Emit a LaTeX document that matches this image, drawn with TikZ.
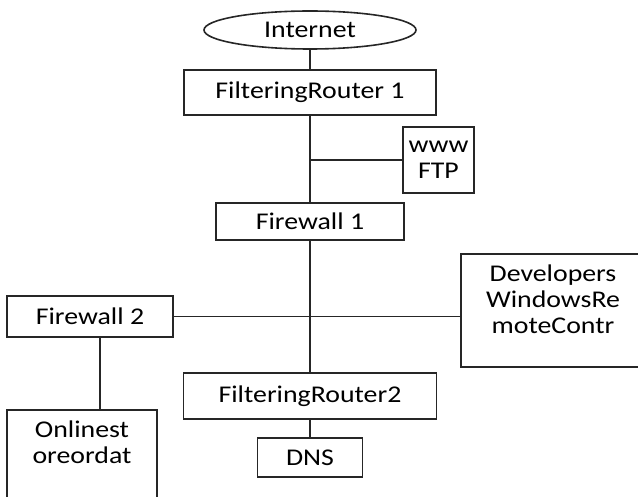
\documentclass[tikz,border=0pt]{standalone}
\usepackage{fontspec}
\setmainfont{Carlito}[FakeStretch=1.16]
\usetikzlibrary{shapes,arrows}

\begin{document}
\begin{tikzpicture}[x=1pt, y=-1pt,
			box/.style={draw=black!85, line width=1.6pt, rectangle, inner sep=0pt},
			wolke/.style={draw=black!85, line width=1.6pt, ellipse, inner sep=0pt},
			netz/.style={draw=black!85, line width=1.6pt},
			txt/.style={align=center, inner sep=0pt},
			font=\fontsize{24}{26}\selectfont]
			%Bildbereich
			\useasboundingbox (0,0) rectangle (638,497);
			% Hauptstrang
			\node[wolke, minimum width=212pt, minimum height=38pt] (internet) at (310,30) {Internet};
			\node[box, minimum width=252pt, minimum height=45pt] (fr1) at (310,92.5) {FilteringRouter 1};
			\node[box, txt, minimum width=71pt, minimum height=66pt] (www) at (438.5,160) {www\\FTP};
			\node[box, minimum width=188pt, minimum height=37pt] (fw1) at (310,221.5) {Firewall 1};
			\node[box, minimum width=253pt, minimum height=46pt] (fr2) at (310,396) {FilteringRouter2};
			\node[box, minimum width=105pt, minimum height=39pt] (dns) at (310,457.5) {DNS};
			% Seitenzweige
			\node[box, minimum width=166pt, minimum height=41pt] (fw2) at (90,316.5) {Firewall 2};
			\node[box, minimum width=184pt, minimum height=113pt,
				label={[txt, anchor=north, yshift=-11.5pt]north:Developers\\WindowsRe\\moteContr}] (dev) at (553,310.5) {};
			\node[box, minimum width=150pt, minimum height=113pt,
				label={[txt, anchor=north, yshift=-11.5pt]north:Onlinest\\oreordat}] (onl) at (82,466.5) {};
			%Verbindungen
			\coordinate (knick) at (100,0);
			\draw[netz] (internet) -- (fr1);
			\draw[netz] (fr1) -- (fw1);
			\draw[netz] (www.west) -- (www.west -| fr1.south);
			\draw[netz] (fw1) -- (fr2);
			\draw[netz] (fr2) -- (dns);
			\draw[netz] (fw2.east) -- (fw2.east -| dev.west);
			\draw[netz] (fw2.south -| knick) -- (onl.north -| knick);
		\end{tikzpicture}
\end{document}
